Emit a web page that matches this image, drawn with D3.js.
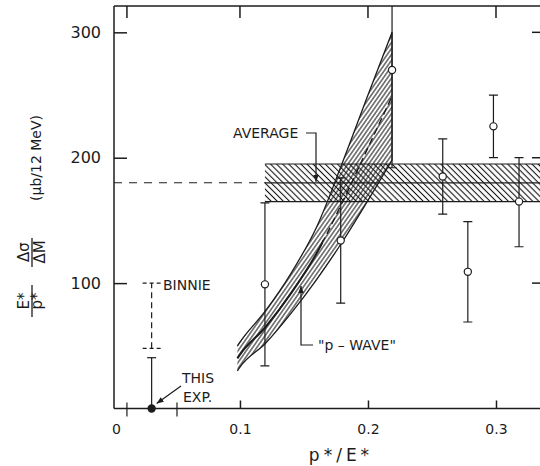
<!DOCTYPE html>
<html lang="en">
<head>
<meta charset="UTF-8">
<title>p-wave</title>
<script src="https://d3js.org/d3.v7.min.js"></script>
<style>
    body { margin: 0; background: #fff; }
    text { font-family: "DejaVu Sans", sans-serif; fill: #1c1c1c; }
</style>
</head>
<body>
<svg width="540" height="466"></svg>
<script>
    var svg = d3.select("svg");
    var ink = "#1c1c1c";

    // ticks
    var xTicks = [0, 0.1, 0.2, 0.3];
    var xTopTicks = [0.0117, 0.1, 0.2, 0.3];
    var yTicks = [100, 200, 300];

    // open-circle points with error bars
    var pointX = [0.1195, 0.1787, 0.2188, 0.2584, 0.278, 0.298, 0.318];
    var pointY = [99, 134, 270, 185, 109, 225, 165];
    var pointLo = [34, 84, 192, 155, 69, 200, 129];
    var pointHi = [164, 184, 348, 215, 149, 250, 200];

    // this experiment (filled dot) and Binnie
    var thisX = 0.031, thisY = 0, thisHi = 40.5;
    var thisXRange = [0.0117, 0.0508];
    var binnieX = 0.031;
    var binnieRange = [48, 100];

    // average band
    var avgValue = 180, avgErr = 15, avgStart = 0.1195;

    // "p-wave" band
    var pwaveX = [0.098, 0.1, 0.12, 0.14, 0.16, 0.18, 0.2, 0.2188];
    var pwaveHigh = [50, 53, 78, 108, 145, 196, 250, 300];
    var pwaveLow = [30, 33, 52, 76, 103, 133, 166, 198];
    var pwaveMid = [40, 43, 65, 92, 124, 164.5, 208, 249];

    var x = d3.scaleLinear().domain([0.0016, 0.3375]).range([114, 544]);
    var y = d3.scaleLinear().domain([0, 321]).range([408.5, 6]);
    var x0 = x.range()[0], x1 = x.range()[1];
    var y0 = y.range()[0], y1 = y.range()[1];

    var defs = svg.append("defs");
    defs.append("clipPath").attr("id", "frame")
        .append("rect").attr("x", x0).attr("y", y1).attr("width", x1 - x0).attr("height", y0 - y1);
    defs.append("clipPath").attr("id", "lowPart")
        .append("rect").attr("x", 0).attr("y", 0).attr("width", x(0.165)).attr("height", 466);
    defs.append("clipPath").attr("id", "highPart")
        .append("rect").attr("x", x(0.165)).attr("y", 0).attr("width", 540).attr("height", 466);

    function hatch(id, step, angle, w) {
        defs.append("pattern").attr("id", id)
            .attr("patternUnits", "userSpaceOnUse")
            .attr("width", step).attr("height", 10)
            .attr("patternTransform", "rotate(" + angle + ")")
            .append("line")
            .attr("x1", step / 2).attr("y1", 0).attr("x2", step / 2).attr("y2", 10)
            .attr("stroke", "#111").attr("stroke-width", w);
    }
    hatch("hatchP", 3.4, 35, 1.0);
    hatch("hatchA", 4.3, -45, 1.1);

    defs.append("marker").attr("id", "arrow")
        .attr("viewBox", "0 0 10 10").attr("refX", 10).attr("refY", 5)
        .attr("markerWidth", 7).attr("markerHeight", 7)
        .attr("markerUnits", "userSpaceOnUse")
        .attr("orient", "auto")
        .append("path").attr("d", "M0,1 L10,5 L0,9 Z").attr("fill", ink);

    var plot = svg.append("g").attr("clip-path", "url(#frame)");

    // average band
    plot.append("rect")
        .attr("x", x(avgStart)).attr("y", y(avgValue + avgErr))
        .attr("width", x1 - x(avgStart)).attr("height", y(avgValue - avgErr) - y(avgValue + avgErr))
        .attr("fill", "url(#hatchA)");
    [avgValue + avgErr, avgValue, avgValue - avgErr].forEach(function (v) {
        plot.append("line")
            .attr("x1", x(avgStart)).attr("x2", x1)
            .attr("y1", y(v)).attr("y2", y(v))
            .attr("stroke", ink).attr("stroke-width", 1.2);
    });
    plot.append("line")
        .attr("x1", x0).attr("x2", x(avgStart))
        .attr("y1", y(avgValue)).attr("y2", y(avgValue))
        .attr("stroke", ink).attr("stroke-width", 1.1)
        .attr("stroke-dasharray", "8,7");

    // p-wave band
    var band = pwaveX.map(function (d, i) {
        return {x: d, lo: pwaveLow[i], hi: pwaveHigh[i], mid: pwaveMid[i]};
    });
    var area = d3.area()
        .x(function (d) { return x(d.x); })
        .y0(function (d) { return y(d.lo); })
        .y1(function (d) { return y(d.hi); })
        .curve(d3.curveMonotoneX);
    plot.append("path").datum(band).attr("d", area).attr("fill", "url(#hatchP)");

    function curveLine(key) {
        return d3.line()
            .x(function (d) { return x(d.x); })
            .y(function (d) { return y(d[key]); })
            .curve(d3.curveMonotoneX);
    }
    plot.append("path").datum(band).attr("d", curveLine("hi"))
        .attr("fill", "none").attr("stroke", ink).attr("stroke-width", 1.3);
    plot.append("path").datum(band).attr("d", curveLine("lo"))
        .attr("fill", "none").attr("stroke", ink).attr("stroke-width", 1.3);
    plot.append("g").attr("clip-path", "url(#lowPart)")
        .append("path").datum(band).attr("d", curveLine("mid"))
        .attr("fill", "none").attr("stroke", ink).attr("stroke-width", 2);
    plot.append("g").attr("clip-path", "url(#highPart)")
        .append("path").datum(band).attr("d", curveLine("mid"))
        .attr("fill", "none").attr("stroke", ink).attr("stroke-width", 1.4)
        .attr("stroke-dasharray", "7,4");
    var last = band[band.length - 1];
    plot.append("line")
        .attr("x1", x(last.x)).attr("x2", x(last.x))
        .attr("y1", y(last.lo)).attr("y2", y(last.hi))
        .attr("stroke", ink).attr("stroke-width", 1.2);

    // points with error bars
    var pts = pointX.map(function (d, i) {
        return {x: d, y: pointY[i], lo: pointLo[i], hi: pointHi[i]};
    });
    var pt = plot.selectAll(".pt").data(pts).enter().append("g").attr("class", "pt");
    pt.append("line")
        .attr("x1", function (d) { return x(d.x); })
        .attr("x2", function (d) { return x(d.x); })
        .attr("y1", function (d) { return y(d.lo); })
        .attr("y2", function (d) { return y(d.hi); })
        .attr("stroke", ink).attr("stroke-width", 1.2);
    ["lo", "hi"].forEach(function (k) {
        pt.append("line")
            .attr("x1", function (d) { return x(d.x) - 4.5; })
            .attr("x2", function (d) { return x(d.x) + 4.5; })
            .attr("y1", function (d) { return y(d[k]); })
            .attr("y2", function (d) { return y(d[k]); })
            .attr("stroke", ink).attr("stroke-width", 1.2);
    });
    pt.append("circle")
        .attr("cx", function (d) { return x(d.x); })
        .attr("cy", function (d) { return y(d.y); })
        .attr("r", 3.6)
        .attr("fill", "#fff").attr("stroke", ink).attr("stroke-width", 1.2);

    // Binnie (dashed)
    svg.append("line")
        .attr("x1", x(binnieX)).attr("x2", x(binnieX))
        .attr("y1", y(binnieRange[0])).attr("y2", y(binnieRange[1]))
        .attr("stroke", ink).attr("stroke-width", 1.2).attr("stroke-dasharray", "6,4");
    binnieRange.forEach(function (v) {
        svg.append("line")
            .attr("x1", x(binnieX) - 9).attr("x2", x(binnieX) + 9)
            .attr("y1", y(v)).attr("y2", y(v))
            .attr("stroke", ink).attr("stroke-width", 1.2).attr("stroke-dasharray", "4,3");
    });

    // this experiment
    svg.append("line")
        .attr("x1", x(thisX)).attr("x2", x(thisX))
        .attr("y1", y(thisY)).attr("y2", y(thisHi))
        .attr("stroke", ink).attr("stroke-width", 1.2);
    svg.append("line")
        .attr("x1", x(thisX) - 4.5).attr("x2", x(thisX) + 4.5)
        .attr("y1", y(thisHi)).attr("y2", y(thisHi))
        .attr("stroke", ink).attr("stroke-width", 1.2);
    thisXRange.forEach(function (v) {
        svg.append("line")
            .attr("x1", x(v)).attr("x2", x(v))
            .attr("y1", y(thisY) - 6).attr("y2", y(thisY) + 8)
            .attr("stroke", ink).attr("stroke-width", 1.2);
    });

    // frame
    var frame = svg.append("g").attr("stroke", ink).attr("stroke-width", 1.5);
    frame.append("line").attr("x1", x0).attr("x2", x0).attr("y1", y1).attr("y2", y0);
    frame.append("line").attr("x1", x0).attr("x2", x1).attr("y1", y0).attr("y2", y0);
    frame.append("line").attr("x1", x0).attr("x2", x1).attr("y1", y1).attr("y2", y1);
    frame.append("line").attr("x1", x1).attr("x2", x1).attr("y1", y1).attr("y2", y0);
    frame.selectAll(".tt").data(xTopTicks).enter().append("line")
        .attr("x1", function (d) { return x(d); }).attr("x2", function (d) { return x(d); })
        .attr("y1", y1).attr("y2", y1 + 12);
    frame.selectAll(".rt").data(yTicks).enter().append("line")
        .attr("x1", x1).attr("x2", x1 - 12)
        .attr("y1", function (d) { return y(d); }).attr("y2", function (d) { return y(d); });

    svg.append("circle")
        .attr("cx", x(thisX)).attr("cy", y(thisY)).attr("r", 4.2).attr("fill", ink);

    // axes
    var xAxis = svg.append("g")
        .attr("transform", "translate(0," + y0 + ")")
        .call(d3.axisBottom(x).tickValues(xTicks).tickSizeInner(-8).tickSizeOuter(0).tickPadding(16)
            .tickFormat(function (d) { return d === 0 ? "0" : d3.format(".1f")(d); }));
    xAxis.select(".domain").remove();
    xAxis.selectAll(".tick line").attr("stroke", ink).attr("stroke-width", 1.5)
        .filter(function (d) { return d === 0; }).remove();
    xAxis.selectAll(".tick text")
        .attr("font-family", "DejaVu Sans").attr("font-size", 14).attr("fill", ink)
        .attr("dx", function (d) { return d === 0 ? 4 : 0; });

    var yAxis = svg.append("g")
        .attr("transform", "translate(" + x0 + ",0)")
        .call(d3.axisLeft(y).tickValues(yTicks).tickSizeInner(-13).tickSizeOuter(0).tickPadding(13));
    yAxis.select(".domain").remove();
    yAxis.selectAll(".tick line").attr("stroke", ink).attr("stroke-width", 1.5);
    yAxis.selectAll(".tick text")
        .attr("font-family", "DejaVu Sans").attr("font-size", 16).attr("fill", ink);

    // axis titles
    svg.append("text").attr("x", 341).attr("y", 461)
        .attr("text-anchor", "middle").attr("font-size", 17).attr("letter-spacing", 4)
        .text("p*/E*");

    function vText(str, sx, sy, size) {
        return svg.append("text")
            .attr("transform", "translate(" + sx + "," + sy + ") rotate(-90)")
            .attr("text-anchor", "middle").attr("font-size", size)
            .text(str);
    }
    vText("E*", 29, 301, 15);
    vText("p*", 42, 301, 15);
    vText("\u0394\u03c3", 29, 252, 15);
    vText("\u0394M", 45, 252, 15);
    vText("(\u03bcb/12 MeV)", 41, 158, 14);
    svg.append("line").attr("x1", 32).attr("x2", 32).attr("y1", 285).attr("y2", 317)
        .attr("stroke", ink).attr("stroke-width", 1.3);
    svg.append("line").attr("x1", 32).attr("x2", 32).attr("y1", 238).attr("y2", 267)
        .attr("stroke", ink).attr("stroke-width", 1.3);

    // annotations
    svg.append("text").attr("x", 233).attr("y", 138).attr("font-size", 14).text("AVERAGE");
    svg.append("path").attr("d", "M306,133 H316 V" + (y(avgValue) - 1))
        .attr("fill", "none").attr("stroke", ink).attr("stroke-width", 1.2)
        .attr("marker-end", "url(#arrow)");

    svg.append("text").attr("x", 163).attr("y", 290).attr("font-size", 14).text("BINNIE");

    svg.append("text").attr("x", 182).attr("y", 383).attr("font-size", 14).text("THIS");
    svg.append("text").attr("x", 183).attr("y", 402).attr("font-size", 14).text("EXP.");
    svg.append("path").attr("d", "M181,386 L" + (x(thisX) + 5) + "," + (y(thisY) - 5))
        .attr("fill", "none").attr("stroke", ink).attr("stroke-width", 1.2)
        .attr("marker-end", "url(#arrow)");

    svg.append("text").attr("x", 318).attr("y", 350).attr("font-size", 14).text("\"p \u2013 WAVE\"");
    svg.append("path").attr("d", "M313,345 H301 V286")
        .attr("fill", "none").attr("stroke", ink).attr("stroke-width", 1.2)
        .attr("marker-end", "url(#arrow)");
</script>
</body>
</html>
